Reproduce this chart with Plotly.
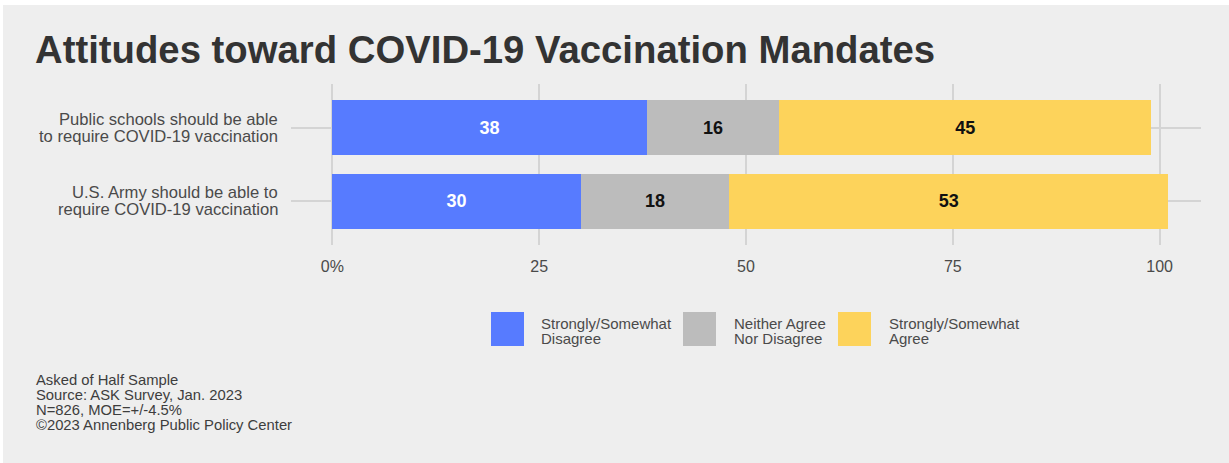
import plotly.graph_objects as go

# ---- data -------------------------------------------------------------
categories = [
    "Public schools should be able<br>to require COVID-19 vaccination",
    "U.S. Army should be able to<br>require COVID-19 vaccination",
]
disagree = [38, 30]
neither = [16, 18]
agree = [45, 53]

series_names = ["Strongly/Somewhat Disagree", "Neither Agree Nor Disagree", "Strongly/Somewhat Agree"]
legend_lines = [["Strongly/Somewhat", "Disagree"], ["Neither Agree", "Nor Disagree"], ["Strongly/Somewhat", "Agree"]]
x_tickvals = [0, 25, 50, 75, 100]
x_ticktext = ["0%", "25", "50", "75", "100"]
caption_lines = [
    "Asked of Half Sample",
    "Source: ASK Survey, Jan. 2023",
    "N=826, MOE=+/-4.5%",
    "\u00a92023 Annenberg Public Policy Center",
]
title_text = "Attitudes toward COVID-19 Vaccination Mandates"

# ---- style ------------------------------------------------------------
W, H = 1229, 463
ML, MR, MT, MB = 291, 28, 84, 218
BG = "#eeeeee"
GRID = "#d4d4d4"
TXT = "#4a4a4a"
FONT = "Liberation Sans, Arial, Helvetica, sans-serif"
colors = ["#577bff", "#bcbcbc", "#fdd35b"]
label_colors = ["#ffffff", "#111111", "#111111"]

PW = W - ML - MR
PH = H - MT - MB


def px_x(px):
    return (px - ML) / PW


def px_y(py):
    return (H - MB - py) / PH


fig = go.Figure()
for name, vals, col, tcol in zip(series_names, [disagree, neither, agree], colors, label_colors):
    fig.add_trace(go.Bar(
        y=categories,
        x=vals,
        name=name,
        orientation="h",
        marker=dict(color=col, line=dict(width=0)),
        width=0.75,
        text=[str(v) for v in vals],
        textposition="inside",
        insidetextanchor="middle",
        textfont=dict(family=FONT, size=18, color=tcol, weight="bold"),
        showlegend=False,
        hoverinfo="skip",
    ))

shapes = []
annotations = []

# category labels, right-aligned next to the panel, with tight line spacing
LINE_GAP = 17
for cat in categories:
    parts = cat.split("<br>")
    n = len(parts)
    for i, ln in enumerate(parts):
        annotations.append(dict(xref="paper", yref="y", x=px_x(280), y=cat,
                                yshift=-(i - (n - 1) / 2) * LINE_GAP,
                                text=ln, showarrow=False, xanchor="right", yanchor="middle",
                                font=dict(family=FONT, size=16.6, color=TXT)))

# custom legend: large square keys with two-line labels
key_x = [491, 683, 838]
text_x = [539, 732, 887]
for kx, tx, col, lines in zip(key_x, text_x, colors, legend_lines):
    shapes.append(dict(type="rect", xref="paper", yref="paper",
                       x0=px_x(kx), x1=px_x(kx + 33), y0=px_y(346), y1=px_y(312),
                       fillcolor=col, line=dict(width=0)))
    for i, ln in enumerate(lines):
        annotations.append(dict(xref="paper", yref="paper", x=px_x(tx), y=px_y(323 + 15.5 * i),
                                text=ln, showarrow=False, xanchor="left", yanchor="middle",
                                font=dict(family=FONT, size=15, color=TXT)))

# source notes
for i, ln in enumerate(caption_lines):
    annotations.append(dict(xref="paper", yref="paper", x=px_x(34), y=px_y(380 + 15 * i),
                            text=ln, showarrow=False, xanchor="left", yanchor="middle",
                            font=dict(family=FONT, size=14.8, color="#3d3d3d")))

# thin white frame on the left and top edges
shapes.append(dict(type="rect", xref="paper", yref="paper", x0=px_x(0), x1=px_x(3),
                   y0=px_y(H), y1=px_y(0), fillcolor="white", line=dict(width=0), layer="below"))
shapes.append(dict(type="rect", xref="paper", yref="paper", x0=px_x(0), x1=px_x(W),
                   y0=px_y(5), y1=px_y(0), fillcolor="white", line=dict(width=0), layer="below"))

fig.update_layout(
    width=W, height=H,
    margin=dict(l=ML, r=MR, t=MT, b=MB, pad=0),
    paper_bgcolor=BG, plot_bgcolor=BG,
    barmode="stack", bargap=0.25,
    title=dict(text=title_text, x=35 / W, xref="container", xanchor="left",
               y=1 - 50 / H, yref="container", yanchor="middle",
               font=dict(family=FONT, size=38.3, color="#333333", weight="bold")),
    xaxis=dict(range=[-5, 105], tickvals=x_tickvals, ticktext=x_ticktext,
               showgrid=True, gridcolor=GRID, gridwidth=2, zeroline=False,
               showline=False, ticks="", ticklabelstandoff=10,
               tickfont=dict(family=FONT, size=16, color=TXT), fixedrange=True),
    yaxis=dict(range=[1.6, -0.6], showgrid=True, gridcolor=GRID, gridwidth=2,
               zeroline=False, showline=False, ticks="", showticklabels=False,
               fixedrange=True),
    shapes=shapes,
    annotations=annotations,
    showlegend=False,
)

fig.write_html("out.html")
